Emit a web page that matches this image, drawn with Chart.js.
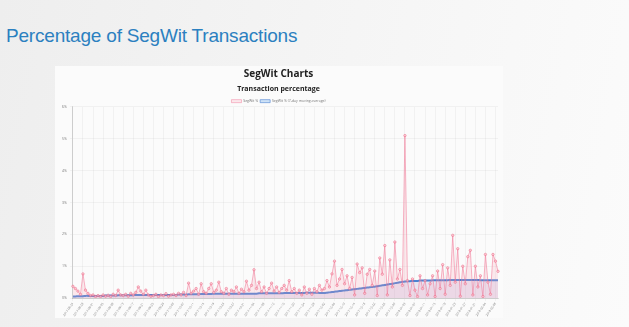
<!DOCTYPE html>
<html>
<head>
<meta charset="utf-8">
<script src="https://cdn.jsdelivr.net/npm/chart.js@4.4.1/dist/chart.umd.min.js"></script>
<style>
    html, body {
        margin: 0;
        padding: 0;
        width: 629px;
        height: 327px;
        overflow: hidden;
        background: linear-gradient(100deg, #eeeeee 0%, #f6f6f6 60%, #fbfbfb 100%);
        font-family: "Liberation Sans", Arial, sans-serif;
    }
    .slide-title {
        position: absolute;
        left: 6px;
        top: 25px;
        font-size: 19px;
        color: #2b80c0;
        letter-spacing: -0.2px;
    }
    .chart-box {
        position: absolute;
        left: 55px;
        top: 66px;
        width: 448px;
        height: 252px;
        background: #fbfbfb;
    }
</style>
</head>
<body>
<div class="slide-title">Percentage of SegWit Transactions</div>
<div class="chart-box"><canvas id="segwitChart" width="448" height="252"></canvas></div>

<script>
// tick labels on the y axis (percent)
const yTicks = [0, 1, 2, 3, 4, 5, 6];

// daily segwit share, percent
const segwitPct = [
    0.37, 0.30, 0.22, 0.12, 0.76, 0.25, 0.15, 0.08, 0.10, 0.05,
    0.08, 0.05, 0.10, 0.06, 0.09, 0.05, 0.12, 0.08, 0.25, 0.10,
    0.08, 0.12, 0.06, 0.15, 0.10, 0.18, 0.35, 0.22, 0.12, 0.25,
    0.10, 0.06, 0.08, 0.12, 0.05, 0.10, 0.08, 0.14, 0.06, 0.10,
    0.12, 0.08, 0.15, 0.10, 0.18, 0.08, 0.47, 0.15, 0.22, 0.30,
    0.12, 0.45, 0.20, 0.15, 0.30, 0.45, 0.18, 0.25, 0.50, 0.20,
    0.15, 0.30, 0.12, 0.25, 0.20, 0.35, 0.15, 0.28, 0.20, 0.53,
    0.25, 0.40, 0.89, 0.30, 0.50, 0.20, 0.35, 0.15, 0.30, 0.47,
    0.22, 0.35, 0.18, 0.30, 0.40, 0.25, 0.55, 0.20, 0.30, 0.15,
    0.25, 0.10, 0.35, 0.15, 0.28, 0.12, 0.30, 0.20, 0.40, 0.25,
    0.30, 0.55, 0.35, 0.76, 1.16, 0.40, 0.60, 0.90, 0.45, 0.70,
    0.30, 0.65, 0.10, 1.07, 0.80, 0.95, 0.15, 0.75, 0.90, 0.40,
    0.85, 0.08, 1.26, 0.75, 1.65, 0.10, 1.20, 0.35, 1.76, 0.60,
    0.90, 0.40, 5.10, 0.55, 0.08, 0.60, 0.25, 0.05, 0.70, 0.30,
    0.55, 0.10, 0.45, 0.70, 0.05, 0.85, 0.30, 1.05, 0.12, 0.95,
    0.40, 1.97, 0.50, 1.55, 0.06, 1.00, 0.45, 1.30, 1.50, 0.10,
    1.00, 0.35, 0.70, 0.05, 1.37, 0.50, 0.12, 1.37, 1.16, 0.84
];

// 7-day moving average, percent
const segwitAvg = [
    0.05, 0.05, 0.06, 0.06, 0.06, 0.07, 0.07, 0.07, 0.07, 0.07,
    0.07, 0.07, 0.07, 0.08, 0.08, 0.08, 0.08, 0.08, 0.09, 0.09,
    0.09, 0.09, 0.09, 0.09, 0.09, 0.10, 0.10, 0.10, 0.10, 0.10,
    0.10, 0.10, 0.10, 0.10, 0.10, 0.10, 0.10, 0.10, 0.10, 0.10,
    0.10, 0.10, 0.11, 0.11, 0.11, 0.11, 0.12, 0.12, 0.12, 0.12,
    0.12, 0.13, 0.13, 0.13, 0.13, 0.13, 0.14, 0.14, 0.14, 0.14,
    0.14, 0.14, 0.14, 0.14, 0.14, 0.14, 0.14, 0.14, 0.14, 0.14,
    0.14, 0.14, 0.14, 0.14, 0.15, 0.15, 0.15, 0.15, 0.15, 0.15,
    0.15, 0.15, 0.15, 0.15, 0.16, 0.16, 0.16, 0.16, 0.16, 0.16,
    0.16, 0.16, 0.16, 0.17, 0.17, 0.17, 0.17, 0.17, 0.16, 0.16,
    0.16, 0.17, 0.18, 0.19, 0.20, 0.21, 0.22, 0.23, 0.24, 0.25,
    0.26, 0.27, 0.28, 0.29, 0.30, 0.31, 0.32, 0.33, 0.34, 0.35,
    0.36, 0.37, 0.39, 0.40, 0.41, 0.43, 0.44, 0.45, 0.47, 0.48,
    0.50, 0.51, 0.52, 0.53, 0.53, 0.54, 0.54, 0.54, 0.55, 0.55,
    0.55, 0.55, 0.55, 0.56, 0.56, 0.56, 0.56, 0.56, 0.56, 0.56,
    0.57, 0.57, 0.57, 0.57, 0.57, 0.57, 0.57, 0.57, 0.57, 0.57,
    0.57, 0.57, 0.56, 0.56, 0.56, 0.56, 0.56, 0.56, 0.56, 0.56
];

// one category per day, starting at segwit activation
const startDate = new Date(Date.UTC(2017, 7, 24));
const dayLabels = segwitPct.map((_, i) => {
    const d = new Date(startDate.getTime() + i * 86400000);
    return d.toISOString().slice(0, 10);
});

// legend sits close to the plot in the original, trim the space under it
const tightLegend = {
    id: 'tightLegend',
    beforeLayout(chart) {
        const legend = chart.legend;
        if (!legend || legend._tight) return;
        const fit = legend.fit.bind(legend);
        legend.fit = function () {
            fit();
            this.height -= 6;
        };
        legend._tight = true;
    }
};

const ctx = document.getElementById('segwitChart').getContext('2d');
new Chart(ctx, {
    type: 'line',
    data: {
        labels: dayLabels,
        datasets: [
            {
                label: 'SegWit %',
                data: segwitPct,
                borderColor: 'rgba(240, 120, 150, 0.8)',
                backgroundColor: 'rgba(255, 160, 180, 0.2)',
                borderWidth: 0.7,
                pointRadius: 1.2,
                pointBorderWidth: 0.6,
                pointBackgroundColor: 'rgba(255, 200, 210, 0.6)',
                pointBorderColor: 'rgba(235, 100, 130, 0.9)',
                tension: 0,
                fill: 'origin'
            },
            {
                label: 'SegWit % (7-day moving average)',
                data: segwitAvg,
                borderColor: 'rgb(75, 130, 210)',
                backgroundColor: 'rgba(150, 195, 240, 0.45)',
                borderWidth: 2,
                pointRadius: 0,
                tension: 0.3,
                fill: { target: 'origin', above: 'rgba(110, 100, 190, 0.14)' }
            }
        ]
    },
    options: {
        responsive: false,
        animation: false,
        layout: { padding: { left: 4, right: 5, top: 0, bottom: 0 } },
        plugins: {
            title: {
                display: true,
                text: 'SegWit Charts',
                color: '#222',
                font: { family: 'Open Sans', size: 10, weight: 'bold' },
                padding: { top: 2, bottom: 3 }
            },
            subtitle: {
                display: true,
                text: 'Transaction percentage',
                color: '#222',
                font: { family: 'Open Sans', size: 7, weight: 'bold' },
                padding: { top: 2, bottom: 4 }
            },
            legend: {
                labels: {
                    boxWidth: 10,
                    boxHeight: 3,
                    padding: 2,
                    color: '#777',
                    font: { family: 'Open Sans', size: 3.5 },
                    generateLabels: chart => {
                        const items = Chart.defaults.plugins.legend.labels.generateLabels(chart);
                        items.forEach(item => { item.lineWidth = 0.6; });
                        items[1].fillStyle = 'rgba(150, 195, 240, 0.45)';
                        return items;
                    }
                }
            },
            tooltip: { enabled: false }
        },
        scales: {
            y: {
                min: 0,
                max: 6,
                afterBuildTicks: axis => {
                    axis.ticks = yTicks.map(v => ({ value: v }));
                },
                grid: { color: 'rgba(0, 0, 0, 0.07)', lineWidth: 0.6, tickLength: 3 },
                border: { color: 'rgba(0, 0, 0, 0.15)' },
                ticks: {
                    color: '#777',
                    font: { family: 'Open Sans', size: 3.5 },
                    padding: 3,
                    callback: v => v + '%'
                }
            },
            x: {
                grid: { color: 'rgba(0, 0, 0, 0.07)', lineWidth: 0.6, tickLength: 3 },
                border: { color: 'rgba(0, 0, 0, 0.15)' },
                ticks: {
                    color: '#777',
                    font: { family: 'Open Sans', size: 3 },
                    autoSkip: true,
                    maxTicksLimit: 48,
                    minRotation: 55,
                    maxRotation: 55,
                    padding: 1
                }
            }
        }
    },
    plugins: [tightLegend]
});
</script>
</body>
</html>
